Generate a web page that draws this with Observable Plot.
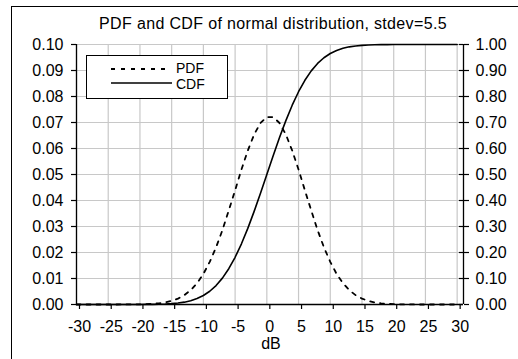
<!DOCTYPE html>
<html><head><meta charset="utf-8">
<script src="https://cdn.jsdelivr.net/npm/d3@7"></script>
<script src="https://cdn.jsdelivr.net/npm/@observablehq/plot@0.6"></script>
<style>
body{margin:0;background:#fff;font-family:"Liberation Sans",Arial,sans-serif;}
#wrap{position:relative;width:518px;height:359px;overflow:hidden;background:#fff;}
#border{position:absolute;left:11px;top:6px;width:700px;height:700px;border:1px solid #000;}
#chart{position:absolute;left:0;top:0;}
#title{position:absolute;left:0;width:546px;top:14px;text-align:center;font-size:16px;line-height:20px;letter-spacing:0.35px;color:#000;}
#legend{position:absolute;left:86px;top:55px;width:140px;height:42px;border:1px solid #000;background:#fff;}
#legend svg{position:absolute;left:0;top:0;}
</style></head><body>
<div id="wrap"><div id="border"></div><div id="chart"></div>
<div id="title"></div>
<div id="legend"></div></div>
<script>
const titleText = "PDF and CDF of normal distribution, stdev=5.5";
const xLabel = "dB";
const seriesNames = ["PDF", "CDF"];
const xValues = [-30,-29,-28,-27,-26,-25,-24,-23,-22,-21,-20,-19,-18,-17,-16,-15,-14,-13,-12,-11,-10,-9,-8,-7,-6,-5,-4,-3,-2,-1,0,1,2,3,4,5,6,7,8,9,10,11,12,13,14,15,16,17,18,19,20,21,22,23,24,25,26,27,28,29,30];
const pdfValues = [0,0,0,0,0,0,0,0.00002,0.00002,0.00004,0.00007,0.00014,0.00026,0.00047,0.00081,0.00138,0.00227,0.00359,0.00551,0.00819,0.01175,0.0164,0.0220,0.0286,0.0362,0.0439,0.0519,0.0592,0.0654,0.0698,0.0721,0.0721,0.0698,0.0654,0.0592,0.0519,0.0439,0.0362,0.0286,0.0220,0.0164,0.01175,0.00819,0.00551,0.00359,0.00227,0.00138,0.00081,0.00047,0.00026,0.00014,0.00007,0.00004,0.00002,0,0,0,0,0,0,0];
const cdfValues = [0,0,0,0,0,0,0,0,0,0.0001,0.0001,0.0003,0.0005,0.0010,0.0018,0.0032,0.0055,0.0090,0.0146,0.0228,0.0345,0.0509,0.0729,0.1015,0.1377,0.1816,0.2335,0.2927,0.3581,0.4279,0.5000,0.5721,0.6419,0.7073,0.7665,0.8184,0.8623,0.8985,0.9271,0.9491,0.9655,0.9772,0.9855,0.9910,0.9945,0.9968,0.9982,0.9990,0.9995,0.9997,0.9999,0.9999,1,1,1,1,1,1,1,1,1];
const xTicks = [-30,-25,-20,-15,-10,-5,0,5,10,15,20,25,30];
const leftTicks = [0,0.01,0.02,0.03,0.04,0.05,0.06,0.07,0.08,0.09,0.10];
const rightTicks = [0,0.1,0.2,0.3,0.4,0.5,0.6,0.7,0.8,0.9,1.0];

const data = xValues.map((x, i) => ({x, pdf: pdfValues[i], cdf: cdfValues[i]}));
const xMin = -30, xMax = 31;
const ratio = 10; // right axis / left axis

const FS = 16;
const chart = Plot.plot({
  width: 518, height: 359,
  marginLeft: 76, marginRight: 55, marginTop: 44, marginBottom: 55,
  style: {fontFamily: '"Liberation Sans", Arial, sans-serif', fontSize: FS + "px", background: "transparent", color: "#000"},
  x: {domain: [xMin, xMax]},
  y: {domain: [0, 0.1]},
  marks: [
    Plot.gridX(xTicks, {stroke: "#c8c8c8", strokeOpacity: 1, strokeWidth: 1.2}),
    Plot.gridY(leftTicks, {stroke: "#c8c8c8", strokeOpacity: 1, strokeWidth: 1.2}),
    Plot.line(data, {x: "x", y: "pdf", stroke: "#000", strokeWidth: 1.8, strokeDasharray: "4,6"}),
    Plot.line(data, {x: "x", y: d => d.cdf / ratio, stroke: "#000", strokeWidth: 1.6}),
    Plot.ruleX([xMin], {stroke: "#000", strokeWidth: 1.3}),
    Plot.ruleX([xMax], {stroke: "#000", strokeWidth: 1.3}),
    Plot.ruleY([0], {stroke: "#000", strokeWidth: 1.3}),
    Plot.ruleY(leftTicks, {x1: xMax - 0.65, x2: xMax, stroke: "#000", strokeWidth: 1.2}),
    Plot.axisY(leftTicks, {anchor: "left", label: null, tickFormat: d => d.toFixed(2), tickSize: 5, tickPadding: 8, fontSize: FS, strokeWidth: 1.2}),
    Plot.axisY(rightTicks.map(v => v / ratio), {anchor: "right", label: null, tickFormat: d => (d * ratio).toFixed(2), tickSize: 5, tickPadding: 7, fontSize: FS, strokeWidth: 1.2}),
    Plot.axisX(xTicks, {anchor: "bottom", label: null, tickFormat: d => String(d), tickSize: 5, tickPadding: 11, fontSize: FS, dx: 3, strokeWidth: 1.2}),
    Plot.text([xLabel], {frameAnchor: "bottom", dy: 44, dx: 1, fontSize: FS, fill: "#000"})
  ]
});
document.getElementById("chart").appendChild(chart);
document.getElementById("title").textContent = titleText;

// legend
const LF = 14;
const lg = d3.select("#legend").append("svg").attr("width", 140).attr("height", 42);
lg.append("line").attr("x1", 24).attr("x2", 84).attr("y1", 13).attr("y2", 13)
  .attr("stroke", "#000").attr("stroke-width", 1.8).attr("stroke-dasharray", "4,6");
lg.append("line").attr("x1", 24).attr("x2", 85).attr("y1", 27).attr("y2", 27)
  .attr("stroke", "#000").attr("stroke-width", 1.6);
lg.append("text").attr("x", 89).attr("y", 12.5).attr("dy", "0.35em").attr("font-size", LF).attr("font-family", '"Liberation Sans", Arial, sans-serif').text(seriesNames[0]);
lg.append("text").attr("x", 89).attr("y", 28).attr("dy", "0.35em").attr("font-size", LF).attr("font-family", '"Liberation Sans", Arial, sans-serif').text(seriesNames[1]);
</script>
</body></html>
